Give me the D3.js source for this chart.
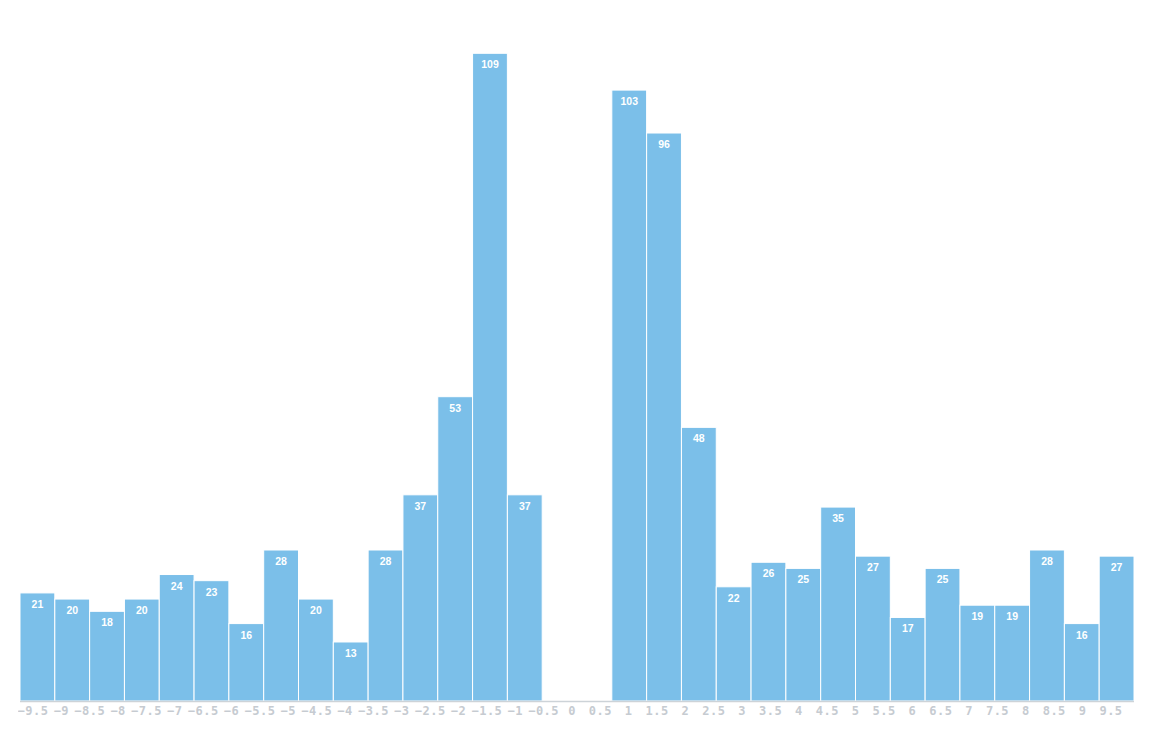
<!DOCTYPE html>
<html>
<head>
<meta charset="utf-8">
<title>Histogram</title>
<script src="https://cdn.jsdelivr.net/npm/d3@7"></script>
<style>
  body { margin: 0; background: #fff; }
  .bar-label { font-family: "Liberation Sans", Arial, sans-serif; font-weight: bold; font-size: 10.5px; fill: #fff; }
  .tick-label { font-family: "DejaVu Sans Mono", monospace; font-weight: bold; font-size: 12px; letter-spacing: 0.5px; fill: #c6cbd1; }
</style>
</head>
<body>
<script>
// bin starts (width 0.5) and counts
var binStarts = [-8,-7.5,-7,-6.5,-6,-5.5,-5,-4.5,-4,-3.5,-3,-2.5,-2,-1.5,-1,-0.5,0,0.5,1,1.5,2,2.5,3,3.5,4,4.5,5,5.5,6,6.5,7,7.5];
var counts = [21,20,18,20,24,23,16,28,20,13,28,37,53,109,37,0,0,103,96,48,22,26,25,35,27,17,25,19,19,28,16,27];
var tickValues = [-9.5,-9,-8.5,-8,-7.5,-7,-6.5,-6,-5.5,-5,-4.5,-4,-3.5,-3,-2.5,-2,-1.5,-1,-0.5,0,0.5,1,1.5,2,2.5,3,3.5,4,4.5,5,5.5,6,6.5,7,7.5,8,8.5,9,9.5];

var width = 1150, height = 731;
var baseline = 701;

var svg = d3.select('body').append('svg')
  .attr('width', width)
  .attr('height', height);

var x = d3.scaleBand()
  .domain(binStarts)
  .range([20, 1134])
  .padding(0);

var y = d3.scaleLinear()
  .domain([0, d3.max(counts)])
  .range([721.7, 53.3]);

var data = binStarts.map(function(b, i) { return { bin: b, count: counts[i] }; })
  .filter(function(d) { return d.count > 0; });

var bars = svg.append('g').selectAll('g')
  .data(data)
  .enter().append('g');

bars.append('rect')
  .attr('x', function(d) { return x(d.bin); })
  .attr('y', function(d) { return y(d.count); })
  .attr('width', x.bandwidth())
  .attr('height', function(d) { return baseline - y(d.count); })
  .attr('fill', '#7bbfe9')
  .attr('stroke', '#fff')
  .attr('stroke-width', 1);

bars.append('text')
  .attr('class', 'bar-label')
  .attr('x', function(d) { return x(d.bin) + x.bandwidth() / 2; })
  .attr('y', function(d) { return y(d.count) + 15; })
  .attr('text-anchor', 'middle')
  .text(function(d) { return d.count; });

// axis line
svg.append('line')
  .attr('x1', 20).attr('x2', 1134)
  .attr('y1', baseline + 0.5).attr('y2', baseline + 0.5)
  .attr('stroke', '#cdd3d8')
  .attr('stroke-width', 1.5);

var xt = d3.scalePoint()
  .domain(tickValues)
  .range([33, 1111]);

svg.append('clipPath').attr('id', 'tick-clip')
  .append('rect').attr('x', 18).attr('y', 700).attr('width', 1130).attr('height', 31);

svg.append('g')
  .attr('clip-path', 'url(#tick-clip)')
  .selectAll('text')
  .data(tickValues)
  .enter().append('text')
  .attr('class', 'tick-label')
  .attr('x', function(d) { return xt(d); })
  .attr('y', 715)
  .attr('text-anchor', 'middle')
  .text(d3.format(''));
</script>
</body>
</html>
